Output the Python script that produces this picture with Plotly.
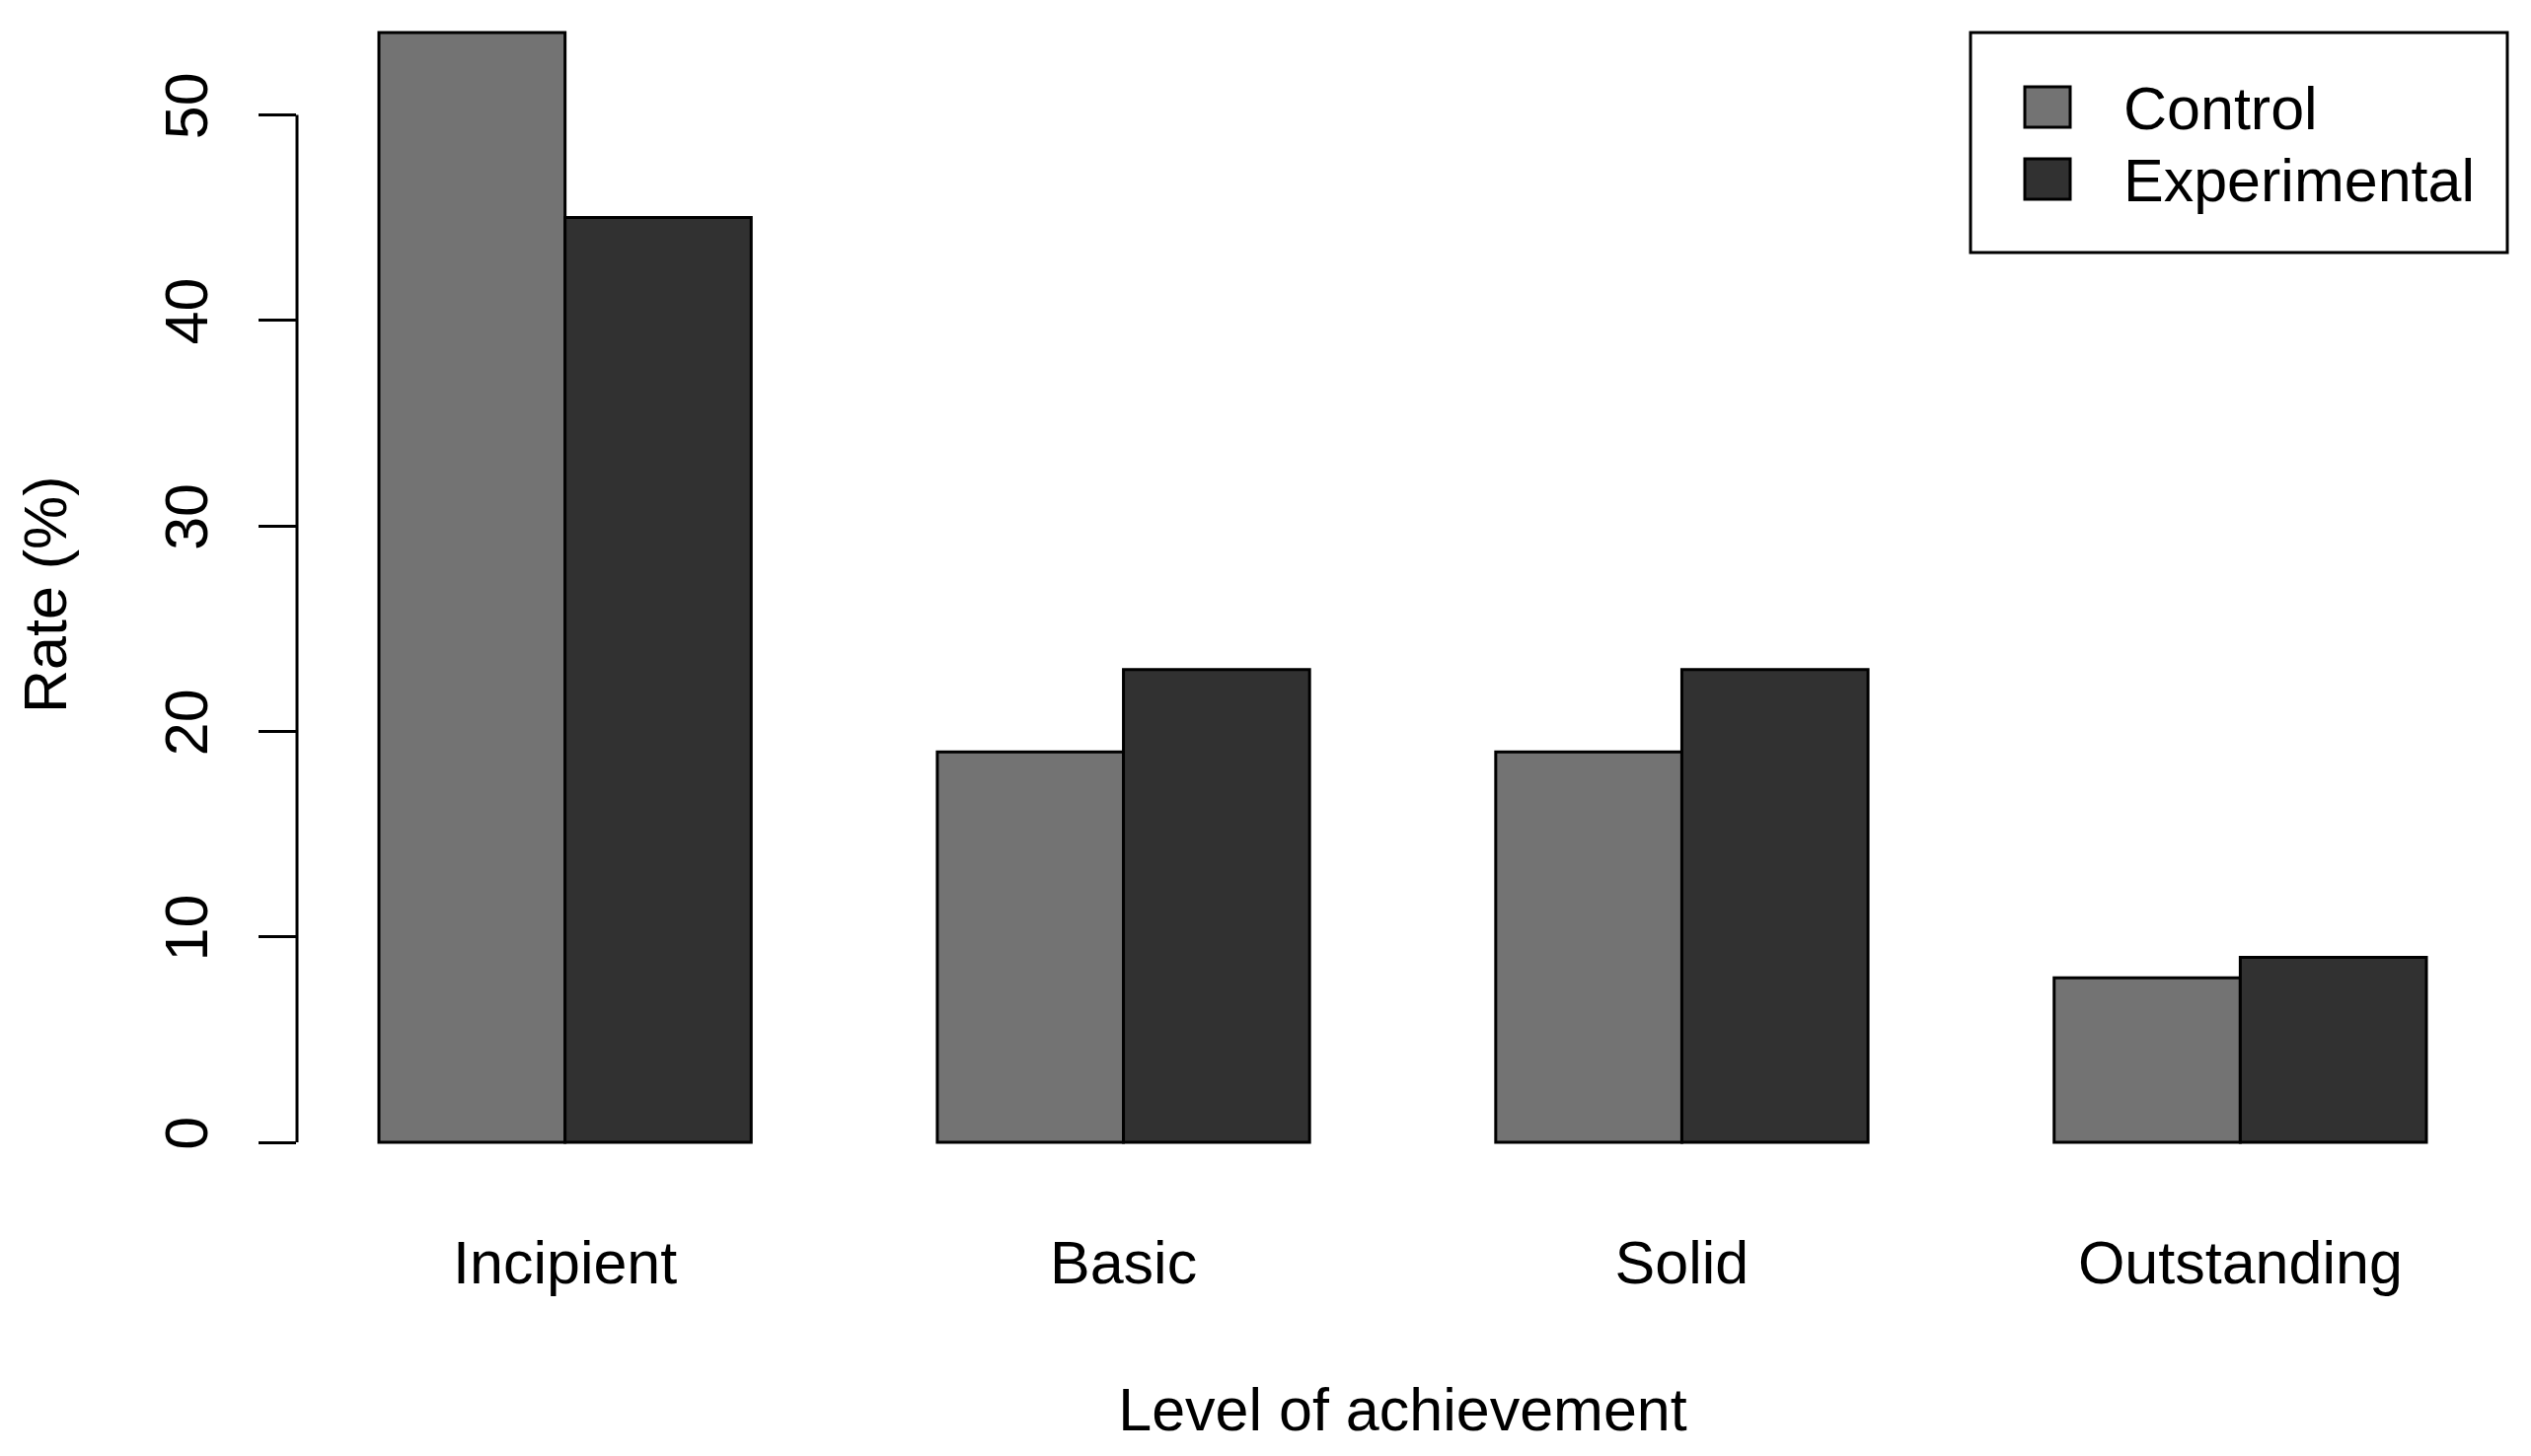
import plotly.graph_objects as go

# ---- data ----
categories = ["Incipient", "Basic", "Solid", "Outstanding"]
control = [54, 19, 19, 8]
experimental = [45, 23, 23, 9]
series_names = ["Control", "Experimental"]
y_ticks = [0, 10, 20, 30, 40, 50]

# ---- styling ----
OFF = 8  # default page body margin
W, H = 2565 - OFF, 1476 - OFF
ML, MR, MT, MB = 301 - OFF, 23, 31 - OFF, 273
PW, PH = W - ML - MR, H - MT - MB
FONT = "Liberation Sans, Arial, Helvetica, sans-serif"
FS = 61
col_control = "#737373"
col_exp = "#313131"


def px_x(p):
    # page pixel -> paper x
    return (p - OFF - ML) / PW


def px_y(p):
    # page pixel -> paper y
    return (H - MB - (p - OFF)) / PH


fig = go.Figure()
fig.add_trace(go.Bar(x=categories, y=control, name=series_names[0],
                     marker=dict(color=col_control, line=dict(color="black", width=3))))
fig.add_trace(go.Bar(x=categories, y=experimental, name=series_names[1],
                     marker=dict(color=col_exp, line=dict(color="black", width=3))))

shapes = [
    dict(type="line", xref="paper", yref="y", x0=0, x1=0, y0=y_ticks[0], y1=y_ticks[-1],
         line=dict(color="black", width=3)),
    dict(type="rect", xref="paper", yref="paper", x0=px_x(1997), x1=px_x(2541),
         y0=px_y(256), y1=px_y(33), line=dict(color="black", width=3), fillcolor="white"),
    dict(type="rect", xref="paper", yref="paper", x0=px_x(2052), x1=px_x(2098),
         y0=px_y(129), y1=px_y(88), line=dict(color="black", width=3), fillcolor=col_control),
    dict(type="rect", xref="paper", yref="paper", x0=px_x(2052), x1=px_x(2098),
         y0=px_y(202), y1=px_y(161), line=dict(color="black", width=3), fillcolor=col_exp),
]

annotations = [
    dict(text=series_names[0], xref="paper", yref="paper", x=px_x(2150), y=px_y(110),
         xanchor="left", yanchor="middle", showarrow=False, font=dict(size=FS, color="black", family=FONT)),
    dict(text=series_names[1], xref="paper", yref="paper", x=px_x(2150), y=px_y(183),
         xanchor="left", yanchor="middle", showarrow=False, font=dict(size=FS, color="black", family=FONT)),
    dict(text="Rate (%)", xref="paper", yref="paper", x=px_x(46), y=px_y(603),
         xanchor="center", yanchor="middle", textangle=-90, showarrow=False,
         font=dict(size=FS, color="black", family=FONT)),
]

fig.update_layout(
    width=W, height=H,
    margin=dict(l=ML, r=MR, t=MT, b=MB, pad=0),
    paper_bgcolor="white", plot_bgcolor="white",
    barmode="group", bargap=1/3, bargroupgap=0,
    showlegend=False,
    font=dict(family=FONT, size=FS, color="black"),
    shapes=shapes,
    annotations=annotations,
    xaxis=dict(range=[-0.48, 3.48], showline=False, showgrid=False, zeroline=False, ticks="",
               ticklabelstandoff=36,
               tickfont=dict(size=FS, family=FONT, color="black"),
               title=dict(text="Level of achievement", font=dict(size=FS, family=FONT, color="black"),
                          standoff=94)),
    yaxis=dict(range=[-2.16, 54.1], tickvals=y_ticks, ticktext=[str(v) for v in y_ticks],
               showline=False, showgrid=False, zeroline=False,
               ticks="outside", ticklen=38, tickwidth=3, tickcolor="black", tickangle=-90,
               ticklabelstandoff=28,
               tickfont=dict(size=FS, family=FONT, color="black")),
)

fig.write_html("out.html")
